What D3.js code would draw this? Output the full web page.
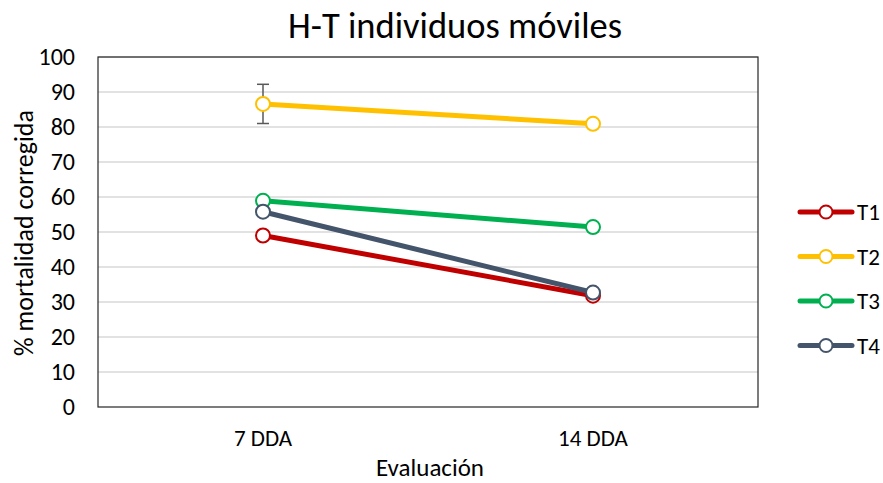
<!DOCTYPE html>
<html><head><meta charset="utf-8">
<script src="https://cdn.jsdelivr.net/npm/d3@7"></script>
<style>body{margin:0;background:#fff}text{font-family:Calibri,Carlito,Lato,"Open Sans",sans-serif}</style>
</head><body><svg id="c" width="883" height="483"></svg>
<script>
const categories = ["7 DDA", "14 DDA"];
const seriesNames = ["T1", "T2", "T3", "T4"];
const seriesColors = ["#C00000", "#FFC000", "#00B050", "#44546A"];
const T1 = [49.0, 31.8];
const T2 = [86.6, 80.9];
const T3 = [58.9, 51.4];
const T4 = [55.8, 32.7];
const T2err = [5.6, null];
const yTicks = [0,10,20,30,40,50,60,70,80,90,100];
const series = [T1, T2, T3, T4];
const errors = [null, T2err, null, null];

const FF = "Calibri,Carlito,Lato,sans-serif";
const svg = d3.select("#c");
const L=98, R=758, T=57, B=407;
const x = d3.scaleBand().domain(categories).range([L,R]);
const y = d3.scaleLinear().domain([0,100]).range([B,T]);

svg.append("g").selectAll("line").data(yTicks.slice(1)).join("line")
  .attr("x1",L).attr("x2",R).attr("y1",d=>y(d)).attr("y2",d=>y(d))
  .attr("stroke","#d9d9d9").attr("stroke-width",1.3);
svg.append("rect").attr("x",L).attr("y",T).attr("width",R-L).attr("height",B-T)
  .attr("fill","none").attr("stroke","#262626").attr("stroke-width",1.2);

const yAxis = svg.append("g").attr("transform",`translate(${L},0)`)
  .call(d3.axisLeft(y).tickValues(yTicks).tickSize(0).tickPadding(23));
yAxis.select(".domain").remove();
yAxis.selectAll("text").attr("font-size",24).attr("fill","#000").style("font-family",FF);

const xAxis = svg.append("g").attr("transform",`translate(0,${B})`)
  .call(d3.axisBottom(x).tickSize(0).tickPadding(23));
xAxis.select(".domain").remove();
xAxis.selectAll("text").attr("font-size",23).attr("fill","#000").style("font-family",FF);

const cx = c => x(c) + x.bandwidth()/2;
const line = d3.line().x((d,i)=>cx(categories[i])).y(d=>y(d));

series.forEach((s,k)=>{
  const g = svg.append("g");
  if (errors[k]) {
    errors[k].forEach((e,i)=>{
      if (e==null) return;
      const xx = cx(categories[i]);
      g.append("line").attr("x1",xx).attr("x2",xx).attr("y1",y(s[i]+e)).attr("y2",y(s[i]-e)).attr("stroke","#595959").attr("stroke-width",1.5);
      [s[i]+e, s[i]-e].forEach(v=>g.append("line").attr("x1",xx-6).attr("x2",xx+6).attr("y1",y(v)).attr("y2",y(v)).attr("stroke","#595959").attr("stroke-width",1.5));
    });
  }
  g.append("path").attr("d",line(s)).attr("fill","none").attr("stroke",seriesColors[k])
    .attr("stroke-width",5).attr("stroke-linecap","round");
  g.selectAll("circle").data(s).join("circle")
    .attr("cx",(d,i)=>cx(categories[i])).attr("cy",d=>y(d)).attr("r",7)
    .attr("fill","#fff").attr("stroke",seriesColors[k]).attr("stroke-width",2);
});

// legend
const lg = svg.append("g");
seriesNames.forEach((n,k)=>{
  const yy = 212 + k*44.5;
  lg.append("line").attr("x1",800).attr("x2",852).attr("y1",yy).attr("y2",yy)
    .attr("stroke",seriesColors[k]).attr("stroke-width",5).attr("stroke-linecap","round");
  lg.append("circle").attr("cx",826).attr("cy",yy).attr("r",6.5).attr("fill","#fff")
    .attr("stroke",seriesColors[k]).attr("stroke-width",2);
  lg.append("text").attr("x",857).attr("y",yy).attr("dy","0.36em").attr("font-size",23).text(n);
});

svg.append("text").attr("x",455).attr("y",38).attr("text-anchor","middle")
  .attr("font-size",36.5).text("H-T individuos móviles");
svg.append("text").attr("x",430).attr("y",476).attr("text-anchor","middle")
  .attr("font-size",25).text("Evaluación");
svg.append("text").attr("transform","translate(33,233) rotate(-90)").attr("text-anchor","middle")
  .attr("font-size",26).text("% mortalidad corregida");
</script></body></html>
